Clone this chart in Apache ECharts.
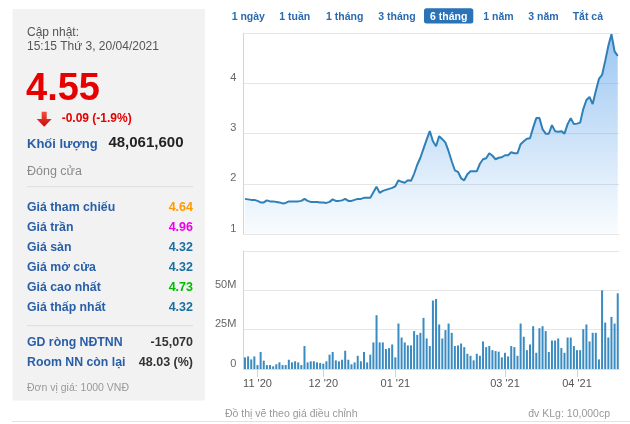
<!DOCTYPE html>
<html><head><meta charset="utf-8">
<script src="https://cdn.jsdelivr.net/npm/echarts@6/dist/echarts.min.js"></script>
<style>
html,body{margin:0;padding:0;background:#fff;}
#wrap{position:relative;width:630px;height:424px;overflow:hidden;font-family:'Liberation Sans',Arial,Helvetica,sans-serif;}
#chart{position:absolute;left:0;top:0;width:630px;height:424px;}
#over{position:absolute;left:0;top:0;pointer-events:none;font-family:'Liberation Sans',Arial,Helvetica,sans-serif;}
</style></head>
<body>
<div id="wrap">
<div id="chart"></div>
<svg id="over" width="630" height="424" xmlns="http://www.w3.org/2000/svg">
  <rect x="12.5" y="9" width="192.5" height="391.5" fill="#f2f2f2"/>
  <text x="27" y="36.3" font-size="12" fill="#555">Cập nhật:</text>
  <text x="27" y="49.5" font-size="12" fill="#555">15:15 Thứ 3, 20/04/2021</text>
  <text x="26" y="100" font-size="38" font-weight="bold" fill="#e60000">4.55</text>
  <defs><linearGradient id="ar" x1="0" y1="0" x2="0" y2="1"><stop offset="0" stop-color="#f0503c"/><stop offset="1" stop-color="#c80a0a"/></linearGradient></defs>
  <path d="M41.7,111.7 H46.7 V119 H51.7 L44.2,126.7 L36.7,119 H41.7 Z" fill="url(#ar)"/>
  <text x="61.7" y="122" font-size="12" font-weight="bold" fill="#e60000">-0.09 (-1.9%)</text>
  <text x="27" y="147.5" font-size="13" font-weight="bold" fill="#285ea8">Khối lượng</text>
  <text x="183.5" y="146.8" font-size="15" font-weight="bold" fill="#222" text-anchor="end">48,061,600</text>
  <text x="27" y="174.5" font-size="12.5" fill="#8a8a8a">Đóng cửa</text>
  <line x1="27" y1="186.7" x2="193" y2="186.7" stroke="#dddddd" stroke-width="1"/>
  <g font-size="12.3" font-weight="bold" fill="#285ea8">
    <text x="27" y="211">Giá tham chiếu</text>
    <text x="27" y="231">Giá trần</text>
    <text x="27" y="251">Giá sàn</text>
    <text x="27" y="271">Giá mở cửa</text>
    <text x="27" y="291">Giá cao nhất</text>
    <text x="27" y="311">Giá thấp nhất</text>
    <text x="27" y="346">GD ròng NĐTNN</text>
    <text x="27" y="366">Room NN còn lại</text>
  </g>
  <g font-size="12.5" font-weight="bold" text-anchor="end">
    <text x="193" y="211" fill="#ff9900">4.64</text>
    <text x="193" y="231" fill="#ee00ee">4.96</text>
    <text x="193" y="251" fill="#1a6ea0">4.32</text>
    <text x="193" y="271" fill="#1a6ea0">4.32</text>
    <text x="193" y="291" fill="#00bb00">4.73</text>
    <text x="193" y="311" fill="#1a6ea0">4.32</text>
    <text x="193" y="346" fill="#333">-15,070</text>
    <text x="193" y="366" fill="#333">48.03 (%)</text>
  </g>
  <line x1="27" y1="325.7" x2="193" y2="325.7" stroke="#dddddd" stroke-width="1"/>
  <text x="27" y="390.5" font-size="10.5" fill="#999">Đơn vị giá: 1000 VNĐ</text>
  <line x1="12" y1="421.5" x2="630" y2="421.5" stroke="#e2e2e2" stroke-width="1"/>
  <rect x="424" y="8.3" width="49.3" height="15.2" rx="2.5" fill="#2a73b8"/>
  <g font-size="10.5" font-weight="bold" fill="#2a6bb0">
    <text x="231.7" y="19.5">1 ngày</text>
    <text x="279.3" y="19.5">1 tuần</text>
    <text x="326" y="19.5">1 tháng</text>
    <text x="378.3" y="19.5">3 tháng</text>
    <text x="430" y="19.5" fill="#ffffff">6 tháng</text>
    <text x="483.3" y="19.5">1 năm</text>
    <text x="528.3" y="19.5">3 năm</text>
    <text x="572.7" y="19.5">Tắt cả</text>
  </g>
  <text x="225" y="417" font-size="10.5" fill="#999">Đồ thị vẽ theo giá điều chỉnh</text>
  <text x="610" y="417" font-size="10.5" fill="#999" text-anchor="end">đv KLg: 10,000cp</text>
</svg>
</div>
<script>
const dates = [
 '2020-10-27','2020-10-28','2020-10-29','2020-10-30',
 '2020-11-02','2020-11-03','2020-11-04','2020-11-05','2020-11-06','2020-11-09','2020-11-10','2020-11-11','2020-11-12','2020-11-13',
 '2020-11-16','2020-11-17','2020-11-18','2020-11-19','2020-11-20','2020-11-23','2020-11-24','2020-11-25','2020-11-26','2020-11-27','2020-11-30',
 '2020-12-01','2020-12-02','2020-12-03','2020-12-04','2020-12-07','2020-12-08','2020-12-09','2020-12-10','2020-12-11','2020-12-14','2020-12-15',
 '2020-12-16','2020-12-17','2020-12-18','2020-12-21','2020-12-22','2020-12-23','2020-12-24','2020-12-25','2020-12-28','2020-12-29','2020-12-30','2020-12-31',
 '2021-01-04','2021-01-05','2021-01-06','2021-01-07','2021-01-08','2021-01-11','2021-01-12','2021-01-13','2021-01-14','2021-01-15',
 '2021-01-18','2021-01-19','2021-01-20','2021-01-21','2021-01-22','2021-01-25','2021-01-26','2021-01-27','2021-01-28','2021-01-29',
 '2021-02-01','2021-02-02','2021-02-03','2021-02-04','2021-02-05','2021-02-08','2021-02-09','2021-02-17','2021-02-18','2021-02-19',
 '2021-02-22','2021-02-23','2021-02-24','2021-02-25','2021-02-26',
 '2021-03-01','2021-03-02','2021-03-03','2021-03-04','2021-03-05','2021-03-08','2021-03-09','2021-03-10','2021-03-11','2021-03-12',
 '2021-03-15','2021-03-16','2021-03-17','2021-03-18','2021-03-19','2021-03-22','2021-03-23','2021-03-24','2021-03-25','2021-03-26',
 '2021-03-29','2021-03-30','2021-03-31',
 '2021-04-01','2021-04-02','2021-04-05','2021-04-06','2021-04-07','2021-04-08','2021-04-09','2021-04-12','2021-04-13','2021-04-14',
 '2021-04-15','2021-04-16','2021-04-19','2021-04-20'
];
const price = [
 1.70,1.69,1.68,1.68,1.66,1.63,1.63,1.67,1.65,1.65,
 1.64,1.63,1.61,1.62,1.65,1.65,1.65,1.65,1.66,1.70,
 1.66,1.64,1.64,1.64,1.63,1.63,1.62,1.64,1.69,1.66,
 1.66,1.67,1.70,1.66,1.66,1.68,1.70,1.70,1.72,1.72,
 1.72,1.83,1.94,1.82,1.86,1.88,1.90,1.92,1.95,2.07,
 2.04,2.02,2.07,2.06,2.20,2.38,2.52,2.70,2.88,3.05,
 2.85,2.75,2.95,2.89,2.82,2.65,2.45,2.27,2.24,2.11,
 2.07,2.19,2.25,2.25,2.25,2.40,2.49,2.51,2.61,2.56,
 2.49,2.52,2.53,2.57,2.57,2.63,2.61,2.61,2.79,2.85,
 2.90,2.91,3.12,3.31,3.31,3.09,3.00,3.00,3.17,3.05,
 3.04,3.05,3.00,3.19,3.31,3.19,3.20,3.22,3.49,3.67,
 3.73,3.59,3.85,4.09,4.17,4.45,4.75,4.98,4.64,4.55
];
// volume in millions of shares
const volume = [
 7.4,8.0,6.1,8.0,2.5,10.8,5.3,2.5,2.5,1.7,
 3.0,4.2,2.5,2.5,5.9,4.2,4.9,4.2,2.5,14.6,
 4.2,4.9,4.9,4.2,3.8,3.4,4.9,9.1,10.8,5.5,
 4.9,5.9,11.6,5.9,3.0,4.2,8.4,4.9,10.8,4.2,
 9.1,16.9,34.2,16.9,16.9,12.7,13.3,15.6,7.4,28.9,
 20.0,16.9,15.0,15.0,24.1,21.7,23.0,32.5,19.4,14.6,
 43.5,44.5,28.3,19.4,24.7,28.9,23.0,14.6,15.0,16.2,
 13.9,9.7,8.4,5.5,9.7,8.4,17.5,13.9,14.6,12.0,
 11.4,11.0,7.4,10.3,8.0,14.6,13.9,8.4,28.9,20.5,
 12.0,15.6,27.2,10.3,25.9,27.2,24.1,10.8,18.1,18.1,
 19.4,13.3,10.3,20.0,20.0,14.6,12.0,12.0,25.3,28.3,
 17.5,23.0,23.0,6.1,50.0,29.5,20.0,33.1,28.9,48.1
];
const tickDates = ['2020-11-02','2020-12-01','2021-01-04','2021-03-01','2021-04-01'];
const tickLabels = ["11 '20","12 '20","01 '21","03 '21","04 '21"];

const isTick = (idx, val) => tickDates.indexOf(val) >= 0;
const chart = echarts.init(document.getElementById('chart'));
const font = "'Liberation Sans', Arial, Helvetica, sans-serif";
chart.setOption({
  animation: false,
  textStyle: { fontFamily: font },
  grid: [
    { left: 243.4, top: 33.3, width: 375.9, height: 200.7 },
    { left: 243.4, top: 251, width: 375.9, height: 118 }
  ],
  xAxis: [
    { type: 'category', gridIndex: 0, data: dates, boundaryGap: true,
      axisLine: { show: false }, axisTick: { show: false }, axisLabel: { show: false }, splitLine: { show: false } },
    { type: 'category', gridIndex: 1, data: dates, boundaryGap: true,
      axisLine: { show: true, lineStyle: { color: '#d6dee9' } },
      axisTick: { show: true, alignWithLabel: true, interval: isTick, length: 8, lineStyle: { color: '#c6d5e8' } },
      axisLabel: { interval: isTick, formatter: v => tickLabels[tickDates.indexOf(v)], color: '#555', fontSize: 11, margin: 9, fontFamily: font },
      splitLine: { show: false } }
  ],
  yAxis: [
    { type: 'value', gridIndex: 0, min: 1, max: 5, interval: 1,
      axisLine: { show: true, lineStyle: { color: '#c9d7ea' } }, axisTick: { show: false },
      axisLabel: { showMaxLabel: false, color: '#666', fontSize: 11, verticalAlign: 'bottom', margin: 7, fontFamily: font },
      splitLine: { lineStyle: { color: '#e6e6e6' } } },
    { type: 'value', gridIndex: 1, min: 0, max: 75, interval: 25,
      axisLine: { show: true, lineStyle: { color: '#c9d7ea' } }, axisTick: { show: false },
      axisLabel: { showMaxLabel: false, color: '#666', fontSize: 11, verticalAlign: 'bottom', margin: 7, fontFamily: font,
        formatter: v => v === 0 ? '0' : v + 'M' },
      splitLine: { lineStyle: { color: '#e6e6e6' } } }
  ],
  series: [
    { type: 'line', xAxisIndex: 0, yAxisIndex: 0, data: price, symbol: 'none',
      lineStyle: { color: '#2f80b9', width: 2 },
      areaStyle: { origin: 'start', color: new echarts.graphic.LinearGradient(0, 0, 0, 1, [
        { offset: 0, color: 'rgba(74,152,230,0.78)' },
        { offset: 1, color: 'rgba(74,152,230,0.04)' }
      ]) } },
    { type: 'bar', xAxisIndex: 1, yAxisIndex: 1, data: volume, barWidth: 2,
      itemStyle: { color: '#3a8bc1' } }
  ]
});
</script>
</body></html>
